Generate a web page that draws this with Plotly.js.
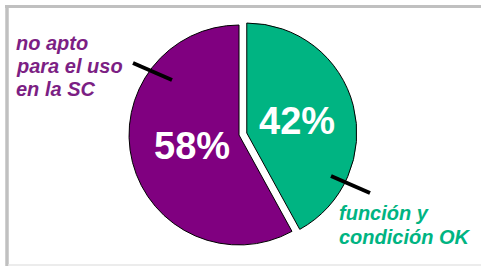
<!DOCTYPE html>
<html>
<head>
<meta charset="utf-8">
<script src="https://cdn.plot.ly/plotly-3.0.1.min.js"></script>
<style>html,body{margin:0;padding:0;background:#fff;}#chart{width:481px;height:266px;}</style>
</head>
<body>
<div id="chart"></div>
<script>
// Data
const labels = ["función y<br>condición OK", "no apto<br>para el uso<br>en la SC"];
const values = [42, 58];
const colors = ["#00B482", "#800080"];
const textColors = ["#00B482", "#7C1F84"];
const pulls = [0.073, 0];

const W = 481, H = 266;
const px = x => x / W;
const py = y => 1 - y / H;
const total = values.reduce((a, b) => a + b, 0);
const pct = values.map(v => Math.round(v / total * 100) + "%");

const FONT = "Liberation Sans, Arial, sans-serif";

const trace = {
  type: "pie",
  labels: labels,
  values: values,
  sort: false,
  direction: "clockwise",
  rotation: 0,
  pull: pulls,
  marker: { colors: colors, line: { color: "#000", width: 1 } },
  textinfo: "none",
  hoverinfo: "none",
  showlegend: false,
  domain: { x: [px(121), px(357)], y: [py(253), py(17)] }
};

const annotations = [
  { x: px(297), y: py(121), text: "<b>" + pct[0] + "</b>", font: { family: FONT, size: 38, color: "#fff" } },
  { x: px(191.5), y: py(146), text: "<b>" + pct[1] + "</b>", font: { family: FONT, size: 38, color: "#fff" } }
];
// category labels, one annotation per line for tight line spacing
const labelPos = [
  { x: 337, baselines: [219, 243] },
  { x: 14, baselines: [49.5, 72.5, 95.5] }
];
labels.forEach((lab, i) => {
  lab.split("<br>").forEach((line, j) => {
    annotations.push({
      x: px(labelPos[i].x), y: py(labelPos[i].baselines[j] - 6.5),
      xanchor: "left", yanchor: "middle", align: "left",
      text: "<b><i>" + line + "</i></b>",
      font: { family: FONT, size: 20, color: textColors[i] }
    });
  });
});
annotations.forEach(a => Object.assign(a, Object.assign({ xref: "paper", yref: "paper", showarrow: false, xanchor: "center", yanchor: "middle" }, a)));

const shapes = [
  // frame
  { type: "line", x0: px(5), x1: px(481), y0: py(6.5), y1: py(6.5), line: { color: "#C0C0C0", width: 3 } },
  { type: "line", x0: px(7), x1: px(7), y0: py(5), y1: py(266), line: { color: "#C0C0C0", width: 3.5 } },
  { type: "line", x0: px(8), x1: px(481), y0: py(265), y1: py(265), line: { color: "#E6E6E6", width: 1.5 } },
  // leader lines
  { type: "line", x0: px(133), y0: py(63), x1: px(172), y1: py(80), line: { color: "#000", width: 4 } },
  { type: "line", x0: px(331), y0: py(176), x1: px(370), y1: py(193), line: { color: "#000", width: 4 } }
].map(s => Object.assign({ xref: "paper", yref: "paper", layer: "above" }, s));

const layout = {
  width: W, height: H,
  margin: { l: 0, r: 0, t: 0, b: 0 },
  paper_bgcolor: "#fff",
  plot_bgcolor: "#fff",
  showlegend: false,
  annotations: annotations,
  shapes: shapes
};

Plotly.newPlot("chart", [trace], layout, { staticPlot: true, displayModeBar: false });
</script>
</body>
</html>
